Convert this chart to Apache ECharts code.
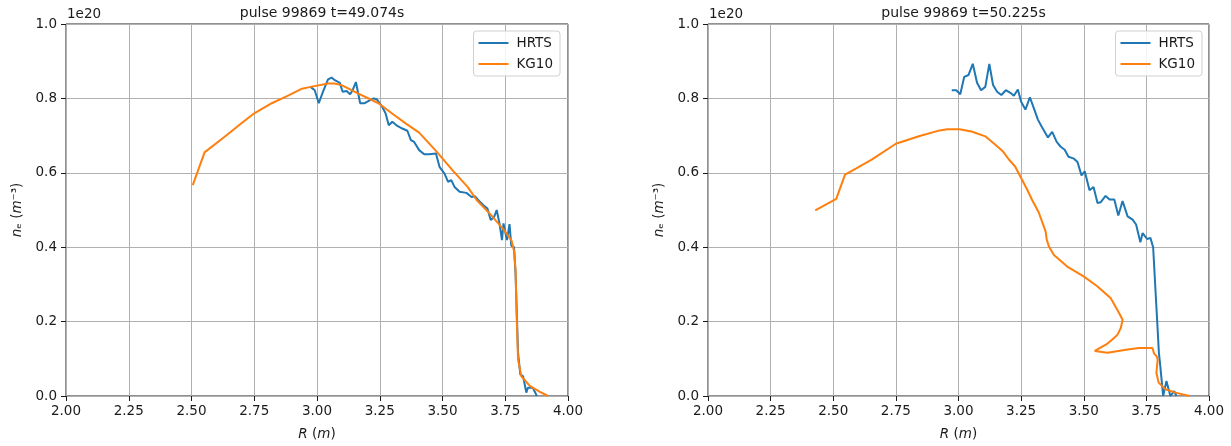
<!DOCTYPE html>
<html>
<head>
<meta charset="utf-8">
<script src="https://cdn.jsdelivr.net/npm/echarts@6/dist/echarts.min.js"></script>
<style>
  html, body { margin: 0; padding: 0; background: #fff; }
  #chart { width: 1231px; height: 446px; }
</style>
</head>
<body>
<div id="chart"></div>
<script>
// ne in units of 1e20 m^-3, R in m
const titles = ["pulse 99869 t=49.074s", "pulse 99869 t=50.225s"];
const xTicks = [2.0, 2.25, 2.5, 2.75, 3.0, 3.25, 3.5, 3.75, 4.0];
const yTicks = [0.0, 0.2, 0.4, 0.6, 0.8, 1.0];

// left panel, t=49.074s
const hrtsR1 = [2.974, 2.991, 3.007, 3.024, 3.044, 3.058, 3.071, 3.091, 3.102, 3.118, 3.132, 3.142, 3.155, 3.172, 3.190, 3.208, 3.226, 3.239, 3.259, 3.273, 3.286, 3.300, 3.320, 3.340, 3.360, 3.374, 3.387, 3.394, 3.407, 3.427, 3.448, 3.474, 3.488, 3.508, 3.522, 3.535, 3.548, 3.568, 3.595, 3.616, 3.629, 3.649, 3.663, 3.679, 3.692, 3.706, 3.716, 3.727, 3.737, 3.743, 3.750, 3.757, 3.767, 3.774, 3.785, 3.791, 3.801, 3.810, 3.821, 3.834, 3.840, 3.860, 3.876];
const hrtsNe1 = [0.831, 0.822, 0.787, 0.818, 0.851, 0.856, 0.849, 0.842, 0.818, 0.820, 0.811, 0.822, 0.844, 0.787, 0.787, 0.794, 0.800, 0.797, 0.778, 0.760, 0.728, 0.737, 0.726, 0.719, 0.713, 0.688, 0.683, 0.688, 0.661, 0.650, 0.650, 0.652, 0.616, 0.598, 0.576, 0.580, 0.562, 0.549, 0.546, 0.535, 0.537, 0.522, 0.513, 0.504, 0.473, 0.482, 0.500, 0.464, 0.419, 0.464, 0.441, 0.419, 0.462, 0.404, 0.400, 0.329, 0.116, 0.058, 0.053, 0.009, 0.022, 0.022, 0.0];
const kg10R1 = [2.505, 2.552, 2.632, 2.699, 2.750, 2.820, 2.887, 2.940, 2.975, 3.044, 3.070, 3.100, 3.165, 3.245, 3.298, 3.353, 3.407, 3.474, 3.542, 3.600, 3.636, 3.690, 3.743, 3.775, 3.785, 3.791, 3.796, 3.801, 3.814, 3.848, 3.888, 3.921];
const kg10Ne1 = [0.567, 0.655, 0.697, 0.733, 0.760, 0.787, 0.808, 0.826, 0.831, 0.840, 0.840, 0.835, 0.813, 0.787, 0.760, 0.733, 0.708, 0.659, 0.605, 0.562, 0.527, 0.489, 0.448, 0.418, 0.390, 0.340, 0.204, 0.098, 0.053, 0.027, 0.011, 0.0];

// right panel, t=50.225s
const hrtsR2 = [2.973, 2.991, 3.007, 3.023, 3.040, 3.057, 3.074, 3.090, 3.107, 3.123, 3.138, 3.154, 3.171, 3.189, 3.207, 3.221, 3.237, 3.250, 3.267, 3.285, 3.301, 3.317, 3.334, 3.357, 3.374, 3.392, 3.408, 3.424, 3.439, 3.461, 3.475, 3.491, 3.504, 3.523, 3.539, 3.555, 3.568, 3.587, 3.603, 3.622, 3.638, 3.655, 3.675, 3.695, 3.709, 3.726, 3.735, 3.753, 3.766, 3.770, 3.777, 3.790, 3.800, 3.804, 3.810, 3.817, 3.830, 3.837, 3.846, 3.861, 3.870];
const hrtsNe2 = [0.822, 0.822, 0.811, 0.858, 0.863, 0.893, 0.842, 0.822, 0.831, 0.893, 0.836, 0.818, 0.809, 0.822, 0.815, 0.807, 0.824, 0.791, 0.770, 0.803, 0.773, 0.743, 0.722, 0.695, 0.710, 0.683, 0.670, 0.662, 0.643, 0.638, 0.629, 0.593, 0.604, 0.553, 0.562, 0.519, 0.521, 0.538, 0.528, 0.528, 0.485, 0.524, 0.483, 0.474, 0.461, 0.413, 0.438, 0.422, 0.425, 0.422, 0.400, 0.240, 0.116, 0.091, 0.093, 0.0, 0.040, 0.036, 0.0, 0.013, 0.0];
const kg10R2 = [2.428, 2.512, 2.547, 2.592, 2.655, 2.750, 2.845, 2.925, 2.956, 3.004, 3.052, 3.107, 3.139, 3.178, 3.202, 3.226, 3.250, 3.274, 3.294, 3.320, 3.348, 3.355, 3.352, 3.361, 3.381, 3.434, 3.501, 3.554, 3.608, 3.641, 3.655, 3.648, 3.635, 3.621, 3.595, 3.544, 3.595, 3.675, 3.721, 3.774, 3.781, 3.791, 3.795, 3.790, 3.799, 3.826, 3.866, 3.922];
const kg10Ne2 = [0.499, 0.530, 0.595, 0.612, 0.636, 0.678, 0.699, 0.714, 0.717, 0.717, 0.711, 0.698, 0.680, 0.657, 0.635, 0.617, 0.586, 0.555, 0.527, 0.494, 0.442, 0.437, 0.421, 0.402, 0.379, 0.348, 0.321, 0.295, 0.263, 0.223, 0.205, 0.183, 0.165, 0.156, 0.141, 0.121, 0.116, 0.125, 0.129, 0.129, 0.114, 0.107, 0.098, 0.062, 0.036, 0.018, 0.009, 0.0];

const zip = (xs, ys) => xs.map((x, i) => [x, ys[i]]);

const FONT = "DejaVu Sans";
const FS = 13.5;
const TXT = "#1a1a1a";
const BLUE = "#1f77b4";
const ORANGE = "#ff7f0e";

const grids = [
  { left: 66, top: 24, width: 502, height: 373 },
  { left: 708, top: 24, width: 501, height: 373 },
];

function xAxisFor(i) {
  return {
    type: "value", gridIndex: i, min: xTicks[0], max: xTicks[xTicks.length - 1], interval: 0.25,
    name: "{i|R} ({i|m})", nameLocation: "middle", nameGap: 31,
    nameTextStyle: { fontFamily: FONT, fontSize: FS, color: TXT,
      rich: { i: { fontFamily: FONT, fontSize: FS, fontStyle: "italic", color: TXT } } },
    axisLine: { show: false },
    axisTick: { show: true, length: 5, lineStyle: { color: TXT } },
    axisLabel: { fontFamily: FONT, fontSize: FS, color: TXT, margin: 8,
      formatter: v => v.toFixed(2), showMinLabel: true, showMaxLabel: true },
    splitLine: { show: true, lineStyle: { color: "#b0b0b0", width: 1 } },
  };
}

function yAxisFor(i) {
  return {
    type: "value", gridIndex: i, min: yTicks[0], max: yTicks[yTicks.length - 1], interval: 0.2,
    name: "{i|n}ₑ ({i|m}⁻³)", nameLocation: "middle", nameRotate: 90, nameGap: 42,
    nameTextStyle: { fontFamily: FONT, fontSize: FS, color: TXT,
      rich: { i: { fontFamily: FONT, fontSize: FS, fontStyle: "italic", color: TXT } } },
    axisLine: { show: false },
    axisTick: { show: true, length: 5, lineStyle: { color: TXT } },
    axisLabel: { fontFamily: FONT, fontSize: FS, color: TXT, margin: 9,
      formatter: v => v.toFixed(1) },
    splitLine: { show: true, lineStyle: { color: "#b0b0b0", width: 1 } },
  };
}

function legendFor(right) {
  return {
    orient: "vertical", right: right, top: 31,
    data: ["HRTS", "KG10"],
    icon: "rect", itemWidth: 30, itemHeight: 2, itemGap: 7,
    padding: [5, 7, 5, 5],
    backgroundColor: "rgba(255,255,255,0.85)",
    borderColor: "#d0d0d0", borderWidth: 1, borderRadius: 3,
    textStyle: { fontFamily: FONT, fontSize: FS, color: TXT, padding: [0, 0, 0, 3] },
    selectedMode: false,
  };
}

function line(name, data, idx, color) {
  return {
    name, type: "line", xAxisIndex: idx, yAxisIndex: idx,
    data, showSymbol: false, symbol: "none",
    lineStyle: { color, width: 2 }, itemStyle: { color },
    clip: true, animation: false,
  };
}

const chart = echarts.init(document.getElementById("chart"));
chart.setOption({
  animation: false,
  textStyle: { fontFamily: FONT },
  title: titles.map((t, i) => ({
    text: t, left: grids[i].left + grids[i].width / 2, top: 1, textAlign: "center",
    textStyle: { fontFamily: FONT, fontSize: 14, fontWeight: "normal", color: TXT },
  })),
  legend: [legendFor(671), legendFor(29)],
  grid: grids.map(g => Object.assign({ show: true, borderColor: "#222", borderWidth: 1, backgroundColor: "transparent" }, g)),
  xAxis: [xAxisFor(0), xAxisFor(1)],
  yAxis: [yAxisFor(0), yAxisFor(1)],
  graphic: grids.map(g => ({
    type: "text", left: g.left + 1, top: 7,
    style: { text: "1e20", fontFamily: FONT, fontSize: FS, fill: TXT },
  })),
  series: [
    line("HRTS", zip(hrtsR1, hrtsNe1), 0, BLUE),
    line("KG10", zip(kg10R1, kg10Ne1), 0, ORANGE),
    line("HRTS", zip(hrtsR2, hrtsNe2), 1, BLUE),
    line("KG10", zip(kg10R2, kg10Ne2), 1, ORANGE),
  ],
});
</script>
</body>
</html>
